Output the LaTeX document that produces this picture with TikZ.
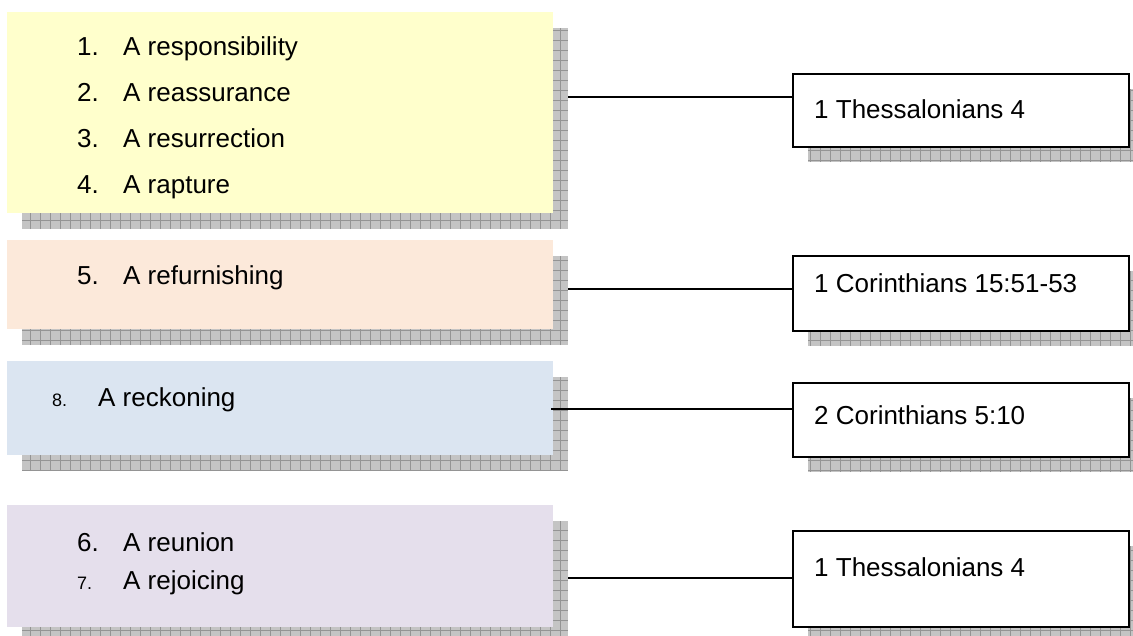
\documentclass[tikz,border=0pt]{standalone}
\usepackage{fontspec}
\setmainfont{Liberation Sans}
\usetikzlibrary{positioning}
\definecolor{noteyellow}{RGB}{255,255,204}
\definecolor{notepeach}{RGB}{252,233,218}
\definecolor{noteblue}{RGB}{219,229,241}
\definecolor{notelilac}{RGB}{229,223,236}
\definecolor{shadowgrey}{RGB}{196,196,196}
\definecolor{shadowline}{RGB}{148,148,148}

% grey chequered drop shadow behind a box
\newcommand{\gridshadow}[4]{%
  \begin{scope}
    \clip (#1,#2) rectangle (#3,#4);
    \fill[shadowgrey] (#1,#2) rectangle (#3,#4);
    \draw[shadowline, line width=0.9pt, step=10pt] (#1,#2) grid (#3,#4);
  \end{scope}}

\begin{document}
\begin{tikzpicture}[x=1pt, y=-1pt, every node/.style={font=\fontsize{26}{31}\selectfont},
  listbox/.style={anchor=north west, minimum width=546pt, inner sep=0pt, outer sep=0pt},
  refbox/.style={draw, line width=1.6pt, fill=white, anchor=north west, minimum width=336pt, inner sep=0pt},
  entry/.style={anchor=base west, inner sep=0pt},
  smallnum/.style={entry, font=\fontsize{18}{22}\selectfont},
  wire/.style={line width=1.3pt}]
  \useasboundingbox (0,0) rectangle (1133,635);
  % shadows
  \gridshadow{22}{28}{568}{229}
  \gridshadow{22}{256}{568}{345}
  \gridshadow{22}{377}{568}{471}
  \gridshadow{22}{521}{568}{643}
  \gridshadow{808}{89}{1144}{162}
  \gridshadow{808}{271}{1144}{346}
  \gridshadow{808}{398}{1144}{472}
  \gridshadow{808}{546}{1144}{642}
  % left lists
  \node[listbox, fill=noteyellow, minimum height=201pt] (listA) at (7,12) {};
  \node[listbox, fill=notepeach, minimum height=89pt] (listB) at (7,240) {};
  \node[listbox, fill=noteblue, minimum height=94pt] (listC) at (7,361) {};
  \node[listbox, fill=notelilac, minimum height=122pt] (listD) at (7,505) {};
  \foreach \n/\t [count=\i] in {1./A responsibility, 2./A reassurance, 3./A resurrection, 4./A rapture}
    \node[entry] (numA\i) at (77,{9+46*\i}) {\n}
      node[entry] (itemA\i) at (123,{9+46*\i}) {\t};
  \node[entry] (numB) at (77,284) {5.};
  \node[entry] (itemB) at (123,284) {A refurnishing};
  \node[smallnum] (numC) at (52,406) {8.};
  \node[entry] (itemC) at (98,406) {A reckoning};
  \node[entry] (numD1) at (77,551) {6.};
  \node[entry] (itemD1) at (123,551) {A reunion};
  \node[smallnum] (numD2) at (77,589) {7.};
  \node[entry] (itemD2) at (123,589) {A rejoicing};
  % references
  \node[refbox, minimum height=73pt] (refA) at (792,73) {};
  \node[refbox, minimum height=75pt] (refB) at (792,255) {};
  \node[refbox, minimum height=74pt] (refC) at (792,382) {};
  \node[refbox, minimum height=96pt] (refD) at (792,530) {};
  \node[entry] (textA) at (814,118) {1 Thessalonians 4};
  \node[entry] (textB) at (814,292) {1 Corinthians 15:51-53};
  \node[entry] (textC) at (814,424) {2 Corinthians 5:10};
  \node[entry] (textD) at (814,576) {1 Thessalonians 4};
  % connectors
  \coordinate (jA) at (568,97);
  \coordinate (jB) at (568,289);
  \coordinate (jC) at (551,409);
  \coordinate (jD) at (568,578);
  \draw[wire] (jA) -- (jA -| refA.west);
  \draw[wire] (jB) -- (jB -| refB.west);
  \draw[wire] (jC) -- (jC -| refC.west);
  \draw[wire] (jD) -- (jD -| refD.west);
\end{tikzpicture}
\end{document}
